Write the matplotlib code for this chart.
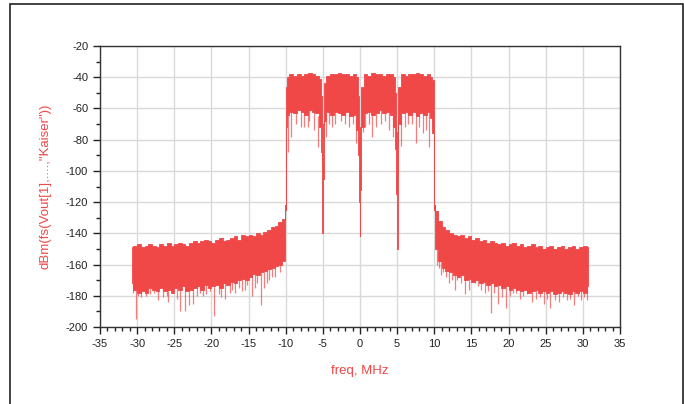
import numpy as np
import matplotlib
matplotlib.use("Agg")
import matplotlib.pyplot as plt
from matplotlib.patches import Rectangle

plt.rcParams['font.family'] = ['Liberation Sans', 'DejaVu Sans']
plt.rcParams['axes.unicode_minus'] = False

# ----------------------------------------------
# spectrum envelope (MHz, dBm)
# ----------------------------------------------
floor_left_freq = [-30.75, -30.25, -29.75, -29.25, -28.75, -28.25, -27.75, -27.25,
                   -26.75, -26.25, -25.75, -25.25, -24.75, -24.25, -23.75, -23.25,
                   -22.75, -22.25, -21.75, -21.25, -20.75, -20.25, -19.75, -19.25,
                   -18.75, -18.25, -17.75, -17.25, -16.75, -16.25, -15.75, -15.25,
                   -14.75, -14.25, -13.75, -13.25, -12.75, -12.25, -11.75, -11.25,
                   -10.75, -10.25, -10.05]
floor_left_top = [-149, -148, -147, -149, -148, -147, -148, -149, -147, -148, -146,
                  -148, -147, -146, -147, -148, -146, -145, -146, -145, -144, -145,
                  -146, -144, -143, -145, -144, -143, -142, -144, -141, -142, -141,
                  -142, -140, -141, -139, -138, -136, -135, -133, -131, -122]
floor_left_bot = [-172, -176, -178, -177, -178, -175, -176, -177, -175, -177, -176,
                  -178, -175, -176, -174, -177, -176, -175, -174, -176, -173, -175,
                  -174, -173, -175, -172, -173, -171, -172, -170, -169, -170, -168,
                  -166, -167, -165, -164, -163, -162, -161, -160, -158, -140]

band_freq = [-10.0, -9.95, -9.75, -9.25, -8.75, -8.25, -7.75, -7.25, -6.75, -6.25,
             -5.75, -5.4, -5.2, -5.1, -5.0, -4.9, -4.8, -4.25, -3.75, -3.25, -2.75,
             -2.25, -1.75, -1.25, -0.75, -0.35, -0.2, -0.1, 0.0, 0.1, 0.2, 0.75,
             1.25, 1.75, 2.25, 2.75, 3.25, 3.75, 4.25, 4.6, 4.8, 4.9, 5.0, 5.1, 5.2,
             5.75, 6.25, 6.75, 7.25, 7.75, 8.25, 8.75, 9.25, 9.6, 9.85, 10.0]
band_top = [-62, -46, -40, -38, -39, -38, -39, -38, -37, -38, -39, -41, -52, -75,
            -95, -70, -44, -39, -38, -38, -37, -38, -38, -39, -38, -40, -52, -78,
            -100, -72, -46, -38, -39, -37, -38, -38, -39, -38, -38, -40, -50, -75,
            -100, -70, -46, -38, -39, -38, -38, -37, -38, -39, -38, -40, -42, -62]
band_bot = [-125, -72, -64, -62, -63, -61, -62, -64, -61, -62, -63, -72, -88, -115,
            -140, -105, -68, -62, -64, -62, -63, -64, -62, -65, -64, -74, -90, -120,
            -142, -112, -72, -63, -62, -64, -63, -61, -63, -62, -64, -72, -86, -115,
            -150, -105, -70, -63, -62, -64, -62, -65, -63, -64, -62, -66, -76, -125]

floor_right_freq = [10.05, 10.25, 10.75, 11.25, 11.75, 12.25, 12.75, 13.25, 13.75,
                    14.25, 14.75, 15.25, 15.75, 16.25, 16.75, 17.25, 17.75, 18.25,
                    18.75, 19.25, 19.75, 20.25, 20.75, 21.25, 21.75, 22.25, 22.75,
                    23.25, 23.75, 24.25, 24.75, 25.25, 25.75, 26.25, 26.75, 27.25,
                    27.75, 28.25, 28.75, 29.25, 29.75, 30.25, 30.75]
floor_right_top = [-122, -126, -132, -136, -138, -140, -141, -142, -141, -143, -142,
                   -144, -143, -145, -144, -146, -145, -146, -147, -146, -148, -147,
                   -146, -148, -147, -149, -148, -147, -149, -148, -150, -149, -148,
                   -150, -149, -148, -150, -149, -148, -150, -149, -148, -149]
floor_right_bot = [-140, -150, -158, -162, -164, -165, -167, -168, -167, -170, -169,
                   -171, -170, -172, -171, -173, -172, -174, -173, -175, -174, -176,
                   -175, -176, -177, -176, -178, -177, -176, -178, -177, -178, -177,
                   -179, -178, -177, -178, -179, -177, -178, -177, -178, -174]

# downward spikes (position, tip)
spike_freq = [-30.5, -30.1, -29.9, -29.5, -28.8, -28.3, -27.7, -27.2, -26.5, -26.0,
              -25.8, -25.3, -24.7, -24.2, -23.5, -23.0, -22.5, -22.0, -21.6, -21.2,
              -20.7, -20.2, -19.6, -19.0, -18.7, -18.2, -17.5, -17.2, -16.8, -16.3,
              -15.9, -15.5, -15.2, -14.6, -14.2, -13.8, -13.3, -12.9, -12.5, -12.2,
              -11.8, -11.5, -10.8,
              -9.7, -9.3, -8.6, -8.0, -7.6, -7.0, -6.8, -6.2, -5.6, -4.6, -4.2, -3.8,
              -3.3, -2.6, -2.0, -1.5, -1.0, -0.6, 0.4, 0.7, 1.2, 1.6, 2.2, 2.8, 3.4,
              3.9, 4.4, 5.5, 6.0, 6.5, 7.0, 7.5, 8.0, 8.5, 8.9, 9.3,
              10.3, 10.6, 10.9, 11.2, 11.6, 12.0, 12.4, 12.8, 13.1, 13.6, 14.2, 14.7,
              15.5, 15.9, 16.3, 16.8, 17.2, 17.7, 18.1, 18.6, 19.1, 19.6, 20.2, 20.6,
              21.0, 21.5, 22.0, 22.5, 23.2, 23.7, 24.2, 24.8, 25.2, 25.6, 26.2, 26.8,
              27.3, 27.9, 28.3, 28.8, 29.3, 29.8, 30.1, 30.5]
spike_tip = [-178, -195, -180, -181, -180, -179, -178, -183, -181, -180,
             -184, -178, -182, -190, -190, -186, -185, -180, -178, -180,
             -179, -177, -193, -179, -181, -182, -178, -176, -178, -175,
             -177, -176, -173, -180, -175, -172, -186, -175, -172, -170,
             -168, -168, -165,
             -88, -78, -70, -72, -72, -72, -68, -74, -85, -78, -70, -72,
             -70, -68, -70, -72, -70, -82, -75, -72, -70, -78, -72, -70, -68,
             -74, -78, -84, -72, -70, -70, -82, -72, -76, -74, -85,
             -160, -162, -167, -165, -168, -172, -170, -176, -170, -172, -179, -176,
             -172, -174, -176, -178, -177, -191, -178, -185, -181, -188, -180, -178,
             -178, -182, -180, -179, -184, -182, -181, -185, -182, -188, -183, -184,
             -181, -183, -182, -186, -180, -183, -181, -183]

RED = "#f04747"

fig = plt.figure(figsize=(6.84, 4.04), dpi=100)
ax = fig.add_axes([0.1462, 0.1906, 0.7602, 0.6955])

for f, top, bot in [(floor_left_freq, floor_left_top, floor_left_bot),
                    (band_freq, band_top, band_bot),
                    (floor_right_freq, floor_right_top, floor_right_bot)]:
    ax.fill_between(f, bot, top, step="mid", color=RED, lw=0.6, edgecolor=RED,
                    zorder=3)

all_f = floor_left_freq + band_freq + floor_right_freq
all_bot = floor_left_bot + band_bot + floor_right_bot
spike_start = np.interp(spike_freq, all_f, all_bot) + 2
ax.vlines(spike_freq, spike_tip, spike_start, color=RED, lw=0.9, alpha=0.7, zorder=3)

ax.set_xlim(-35, 35)
ax.set_ylim(-200, -20)
ax.set_xticks(np.arange(-35, 36, 5))
ax.set_xticks(np.arange(-35, 36, 1), minor=True)
ax.set_yticks(np.arange(-200, -19, 20))
ax.set_yticks(np.arange(-200, -19, 10), minor=True)
ax.set_xticklabels([str(v) for v in range(-35, 36, 5)])
ax.set_yticklabels([str(v) for v in range(-200, -19, 20)])

ax.grid(True, which="major", color="#d9d9d9", lw=1.0, zorder=0)
ax.tick_params(which="major", direction="out", length=5, width=1, labelsize=8,
               colors="#222222")
ax.tick_params(which="minor", direction="out", length=3, width=1, colors="#222222")
for s in ax.spines.values():
    s.set_color("#333333")
    s.set_linewidth(1.0)

ax.set_xlabel("freq, MHz", color=RED, fontsize=9.5, labelpad=12)
ax.set_ylabel('dBm(fs(Vout[1],....,"Kaiser"))', color=RED, fontsize=9.5, labelpad=10)

fig.patches.append(Rectangle((9.5 / 684, -0.02), 673 / 684, 1.02 - 4.5 / 404,
                             transform=fig.transFigure, fill=False,
                             edgecolor="#222222", lw=1.2))

fig.savefig("out.png", dpi=100)
